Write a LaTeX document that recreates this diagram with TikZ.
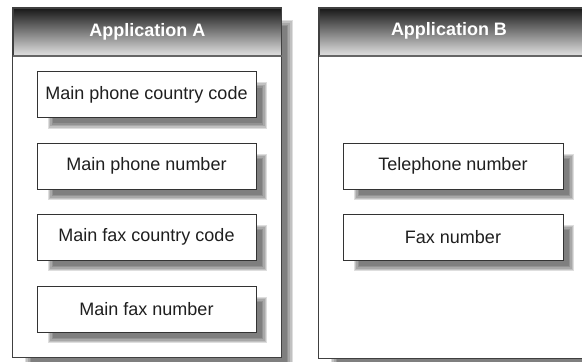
\documentclass[tikz,border=0pt]{standalone}
\usepackage{fontspec}
\setmainfont{Liberation Sans}
\usetikzlibrary{fit}
\pgfdeclarelayer{front}
\pgfsetlayers{main,front}
\tikzset{
  field/.style={draw=black!80, line width=0.9pt, fill=white, minimum width=219pt, minimum height=46pt, inner sep=0pt,
    font=\fontsize{18}{21}\selectfont, text=black!88},
  panel/.style={draw=black!75, line width=1.2pt, fill=white, inner sep=0pt},
  header/.style={draw=black!75, line width=1.2pt, top color=black!90, bottom color=black!12,
    inner sep=0pt, font=\bfseries\fontsize{18}{21}\selectfont, text=white},
  headline/.style={draw=black!60, line width=2pt},
}
\newcommand\softshadow[3]{% node, offset, step
  \foreach \i in {0,...,4} {
    \fill[black, opacity=0.13]
      ([xshift={#2pt+\i*#3pt}, yshift={-#2pt-\i*#3pt}]#1.north west) rectangle
      ([xshift={#2pt-\i*#3pt}, yshift={-#2pt+\i*#3pt}]#1.south east);
  }
}
\begin{document}
\begin{tikzpicture}[x=1pt, y=-1pt]
\useasboundingbox (0,0) rectangle (582,362);
\begin{scope}
\clip (0,0) rectangle (582,362);
% panel geometry
\path (13,8) coordinate (pAnw) (281,357) coordinate (pAse)
      (319,8) coordinate (pBnw) (660,358) coordinate (pBse);
\node[inner sep=0pt, fit=(pAnw)(pAse)] (panelA) {};
\node[inner sep=0pt, fit=(pBnw)(pBse)] (panelB) {};
% panel shadows
\softshadow{panelA}{12}{1.6}
\softshadow{panelB}{12}{1.6}
% panels
\draw[panel] (panelA.north west) rectangle (panelA.south east);
\draw[panel] (panelB.north west) rectangle (panelB.south east);
% headers
\node[header, anchor=north west, minimum width=268pt, minimum height=47pt] (hA) at (panelA.north west) {Application A};
\node[header, anchor=north west, minimum width=341pt, minimum height=47pt] (hB) at (panelB.north west) {};
\node[font=\bfseries\fontsize{18}{21}\selectfont, text=white] (hBt) at (449,31) {Application B};
\draw[headline] (hA.south west) -- (hA.south east);
\draw[headline] (hB.south west) -- (hB.south east);
\begin{pgfonlayer}{front}
% fields A
\node[field] (a1) at (146.5,94.5) {Main phone country code};
\node[field] (a2) at (146.5,166) {Main phone number};
\node[field] (a3) at (146.5,237) {Main fax country code};
\node[field] (a4) at (146.5,309) {Main fax number};
% fields B
\node[field, minimum width=220pt] (b1) at (453,166) {Telephone number};
\node[field, minimum width=220pt] (b2) at (453,237) {Fax number};
\end{pgfonlayer}
% field shadows (below the fields)
\foreach \n in {a1,a2,a3,a4,b1,b2} {\softshadow{\n}{11}{1.4}}
\end{scope}
\end{tikzpicture}
\end{document}
